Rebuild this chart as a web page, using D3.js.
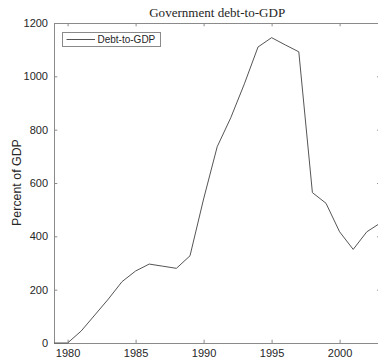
<!DOCTYPE html>
<html>
<head>
<meta charset="utf-8">
<script src="https://cdn.jsdelivr.net/npm/d3@7"></script>
<style>
  html, body { margin: 0; padding: 0; background: #fff; }
  svg { display: block; }
</style>
</head>
<body>
<script>
// Government debt as a percent of GDP, annual
const years = [1979, 1980, 1981, 1982, 1983, 1984, 1985, 1986, 1987, 1988, 1989,
               1990, 1991, 1992, 1993, 1994, 1995, 1996, 1997, 1998, 1999, 2000,
               2001, 2002, 2003];
const debtToGdp = [0, 0, 45, 105, 165, 230, 270, 296, 288, 280, 327,
                   540, 736, 845, 972, 1110, 1145, 1118, 1092, 564, 524, 417,
                   351, 417, 450];
const xTicks = [1980, 1985, 1990, 1995, 2000];
const yTicks = [0, 200, 400, 600, 800, 1000, 1200];
const seriesName = "Debt-to-GDP";
const titleText = "Government debt-to-GDP";
const yLabelText = "Percent of GDP";

const W = 378, H = 359;
const plot = { left: 54, right: 380.4, top: 23, bottom: 343 };
const ink = "#262626";
const axisInk = "#8a8a8a";

const svg = d3.select("body").append("svg")
  .attr("width", W).attr("height", H);

const x = d3.scaleLinear().domain([1979, 2003]).range([plot.left, plot.right]);
const y = d3.scaleLinear().domain([0, 1200]).range([plot.bottom, plot.top]);

const tickLen = 3.3;
const sans = "'Liberation Sans', Arial, Helvetica, sans-serif";

// Axes: inward ticks on all four sides (box on)
const axB = d3.axisBottom(x).tickValues(xTicks).tickFormat(d3.format("d"))
  .tickSizeInner(-tickLen).tickSizeOuter(0).tickPadding(6);
const axT = d3.axisTop(x).tickValues(xTicks).tickFormat("")
  .tickSizeInner(-tickLen).tickSizeOuter(0);
const axL = d3.axisLeft(y).tickValues(yTicks).tickFormat(d3.format("d"))
  .tickSizeInner(-tickLen).tickSizeOuter(0).tickPadding(6);
const axR = d3.axisRight(y).tickValues(yTicks).tickFormat("")
  .tickSizeInner(-tickLen).tickSizeOuter(0);

function styleAxis(g) {
  g.select(".domain").attr("stroke", axisInk).attr("stroke-width", 1);
  g.selectAll(".tick line").attr("stroke", axisInk).attr("stroke-width", 1);
  g.selectAll(".tick text").attr("fill", ink)
    .style("font-family", sans).style("font-size", "11px");
}

svg.append("g").attr("transform", `translate(0,${plot.bottom})`).call(axB).call(styleAxis);
svg.append("g").attr("transform", `translate(0,${plot.top})`).call(axT).call(styleAxis);
svg.append("g").attr("transform", `translate(${plot.left},0)`).call(axL).call(styleAxis);
svg.append("g").attr("transform", `translate(${plot.right},0)`).call(axR).call(styleAxis);

// Data line
const line = d3.line().x((d, i) => x(years[i])).y(d => y(d));
svg.append("path")
  .datum(debtToGdp)
  .attr("d", line)
  .attr("fill", "none")
  .attr("stroke", "#555")
  .attr("stroke-width", 1)
  .attr("stroke-linejoin", "round");

// Title
svg.append("text")
  .attr("x", (plot.left + plot.right) / 2)
  .attr("y", 16.5)
  .attr("text-anchor", "middle")
  .attr("fill", ink)
  .attr("textLength", 136)
  .attr("lengthAdjust", "spacingAndGlyphs")
  .style("font-family", "'Liberation Serif', 'DejaVu Serif', serif")
  .style("font-size", "13.5px")
  .text(titleText);

// Y axis label
svg.append("text")
  .attr("transform", `translate(21,${(plot.top + plot.bottom) / 2 - 0.5}) rotate(-90)`)
  .attr("text-anchor", "middle")
  .attr("fill", ink)
  .style("font-family", sans)
  .style("font-size", "12.4px")
  .text(yLabelText);

// Legend
const legend = svg.append("g");
legend.append("rect")
  .attr("x", 62.5).attr("y", 32.5).attr("width", 98).attr("height", 14)
  .attr("fill", "#fff").attr("stroke", axisInk).attr("stroke-width", 1);
legend.append("line")
  .attr("x1", 66.5).attr("x2", 95).attr("y1", 39.5).attr("y2", 39.5)
  .attr("stroke", "#555").attr("stroke-width", 1);
legend.append("text")
  .attr("x", 97.5).attr("y", 43.3)
  .attr("fill", ink)
  .style("font-family", sans)
  .style("font-size", "10px")
  .text(seriesName);
</script>
</body>
</html>
